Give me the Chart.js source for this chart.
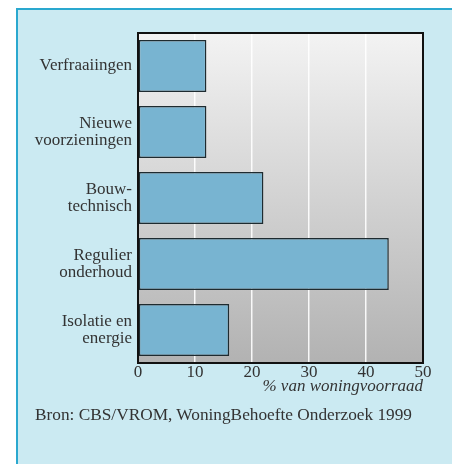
<!DOCTYPE html>
<html>
<head>
<meta charset="utf-8">
<script src="https://cdn.jsdelivr.net/npm/chart.js@4"></script>
<style>
    body { margin: 0; background: #fff; }
    #frame { position: absolute; left: 16px; top: 8px; width: 436px; height: 456px; background: #cbeaf2; border-left: 2px solid #2aa8cf; border-top: 2px solid #2aa8cf; box-sizing: border-box; }
    #wrap { position: absolute; left: 0; top: 0; width: 452px; height: 464px; }
    #bron { position: absolute; left: 35px; top: 405px; font-family: "Liberation Serif", serif; font-size: 17.3px; color: #333; white-space: nowrap; }
</style>
</head>
<body>
<div id="frame"></div>
<div id="wrap"><canvas id="chart" width="452" height="464"></canvas></div>
<div id="bron">Bron: CBS/VROM, WoningBehoefte Onderzoek 1999</div>
<script>
(function(){
    const categories = [
        ["Verfraaiingen"],
        ["Nieuwe", "voorzieningen"],
        ["Bouw-", "technisch"],
        ["Regulier", "onderhoud"],
        ["Isolatie en", "energie"]
    ];
    const values = [12, 12, 22, 44, 16];
    const xTicks = [0, 10, 20, 30, 40, 50];

    const serif = "'Liberation Serif', serif";

    const plotBg = {
        id: "plotBg",
        beforeDraw(chart) {
            const {ctx, chartArea: a} = chart;
            const g = ctx.createLinearGradient(0, a.top, 0, a.bottom);
            g.addColorStop(0, "#f3f3f3");
            g.addColorStop(1, "#b2b2b2");
            ctx.save();
            ctx.fillStyle = g;
            ctx.fillRect(a.left, a.top, a.right - a.left, a.bottom - a.top);
            ctx.restore();
        },
        afterDatasetsDraw(chart) {
            const {ctx, chartArea: a} = chart;
            ctx.save();
            ctx.strokeStyle = "#111";
            ctx.lineWidth = 2;
            ctx.strokeRect(a.left, a.top, a.right - a.left, a.bottom - a.top);
            ctx.restore();
        }
    };

    const ctx = document.getElementById("chart");
    new Chart(ctx, {
        type: "bar",
        data: {
            labels: categories,
            datasets: [
                {
                    data: values,
                    backgroundColor: "#78b4d1",
                    borderColor: "#1e2b30",
                    borderWidth: 1.5,
                    borderSkipped: false,
                    barPercentage: 0.79,
                    categoryPercentage: 1
                }
            ]
        },
        options: {
            indexAxis: "y",
            responsive: false,
            animation: false,
            layout: { padding: { top: 33, right: 29, bottom: 69, left: 0 } },
            plugins: { legend: { display: false }, tooltip: { enabled: false } },
            scales: {
                x: {
                    min: 0,
                    max: 50,
                    afterBuildTicks: function (axis) {
                        axis.ticks = xTicks.map(v => ({ value: v }));
                    },
                    afterFit: function (axis) { axis.height = 32; },
                    grid: { color: "rgba(255,255,255,0.9)", lineWidth: 1.5, drawTicks: false, drawOnChartArea: true },
                    border: { display: false },
                    ticks: { color: "#333", padding: -1, maxRotation: 0, font: { family: serif, size: 17 } },
                    title: {
                        display: true,
                        text: "% van woningvoorraad",
                        align: "end",
                        color: "#333",
                        padding: 0,
                        font: { family: serif, size: 17, style: "italic", lineHeight: 1 }
                    }
                },
                y: {
                    afterFit: function (axis) { axis.width = 138; },
                    grid: { display: false, drawTicks: false },
                    border: { display: false },
                    ticks: { color: "#333", padding: 6, font: { family: serif, size: 17, lineHeight: 1 } }
                }
            }
        },
        plugins: [plotBg]
    });
})()
</script>
</body>
</html>
